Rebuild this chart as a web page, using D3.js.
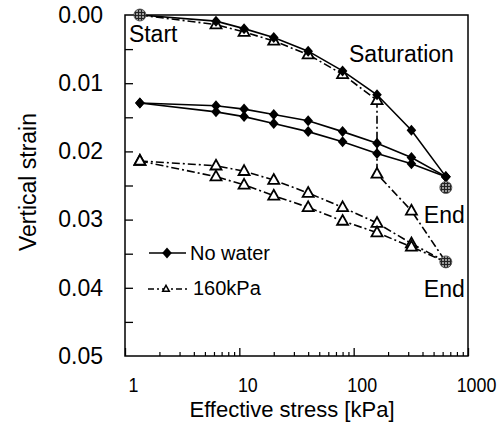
<!DOCTYPE html>
<html>
<head>
<meta charset="utf-8">
<script src="https://cdn.jsdelivr.net/npm/d3@7"></script>
<style>
  body { margin: 0; background: #fff; }
  text { font-family: "Liberation Sans", Arial, sans-serif; fill: #000; }
</style>
</head>
<body>
<svg id="chart" width="499" height="434"></svg>
<script>
// Effective stress steps [kPa]
const stress = [1.35, 6.25, 11, 20, 40, 80, 160, 320, 640];

// "No water" test: vertical strain
const noWaterLoading   = [0, 0.0009, 0.0020, 0.0033, 0.0053, 0.0082, 0.0117, 0.0169, 0.0237];
const noWaterUnloading = [0.0129, 0.0133, 0.0138, 0.0146, 0.0155, 0.0171, 0.0188, 0.0209, 0.0237];
const noWaterReloading = [0.0129, 0.0142, 0.0149, 0.0159, 0.0171, 0.0186, 0.0203, 0.0218, 0.0237];

// "160kPa" test: loading, wetting at 160 kPa, then further loading
const wetStress        = [1.35, 6.25, 11, 20, 40, 80, 160, 160, 320, 640];
const wetLoading       = [0, 0.0014, 0.0025, 0.0038, 0.0058, 0.0087, 0.0125, 0.0233, 0.0287, 0.0362];
const wetUnloading     = [0.0214, 0.0221, 0.0229, 0.0242, 0.0261, 0.0282, 0.0305, 0.0335, 0.0362];
const wetReloading     = [0.0214, 0.0237, 0.0249, 0.0265, 0.0282, 0.0302, 0.0319, 0.0340, 0.0362];

// Marked states
const startState = { stress: 1.35, strain: 0, label: "Start" };
const saturationState = { stress: 160, strain: 0.0117, label: "Saturation" };
const endStates = [
  { stress: 640, strain: 0.0253, label: "End" },
  { stress: 640, strain: 0.0362, label: "End" }
];

// Axes
const xMajorTicks = [1, 10, 100, 1000];
const yLabelTicks = [0, 0.01, 0.02, 0.03, 0.04, 0.05];
const yInnerTicks = [0.005, 0.01, 0.015, 0.02, 0.025, 0.03, 0.035, 0.04, 0.045];
const xTitle = "Effective stress [kPa]";
const yTitle = "Vertical strain";
const legendNames = ["No water", "160kPa"];

(function draw() {
  const svg = d3.select("#chart");
  const plotL = 125, plotR = 468, plotT = 15, plotB = 356;

  const x = d3.scaleLog().domain([1, 1000]).range([plotL, plotR]);
  const y = d3.scaleLinear().domain([0, 0.05]).range([plotT, plotB]);

  // crosshatched fill for start / end circles
  const defs = svg.append("defs");
  const pat = defs.append("pattern").attr("id", "hatch")
    .attr("width", 3).attr("height", 3).attr("patternUnits", "userSpaceOnUse");
  pat.append("rect").attr("width", 3).attr("height", 3).attr("fill", "#9a9a9a");
  pat.append("path").attr("d", "M0,0.5H3M0.5,0V3").attr("stroke", "#222").attr("stroke-width", 1);

  const dashDot = "8,3,2,3";
  const line = d3.line().x(d => x(d[0])).y(d => y(d[1]));
  const pts = (xs, ys) => xs.map((v, i) => [v, ys[i]]);

  const diamond = "M0,-5.5L4.8,0L0,5.5L-4.8,0Z";
  const triangle = "M0,-6L5.5,3.8L-5.5,3.8Z";

  // frame
  svg.append("rect").attr("x", plotL).attr("y", plotT)
    .attr("width", plotR - plotL).attr("height", plotB - plotT)
    .attr("fill", "none").attr("stroke", "#000").attr("stroke-width", 1.5);

  // y axis: labels outside, ticks inward
  svg.append("g").attr("transform", `translate(${plotL},0)`)
    .call(d3.axisLeft(y).tickValues(yLabelTicks).tickFormat(d3.format(".2f")).tickSize(0).tickPadding(22))
    .call(g => g.select(".domain").remove())
    .call(g => g.selectAll("text").attr("font-size", 23).attr("font-family", "Liberation Sans, Arial, sans-serif"));
  svg.append("g").attr("transform", `translate(${plotL},0)`)
    .call(d3.axisRight(y).tickValues(yInnerTicks).tickFormat("").tickSize(8))
    .call(g => g.select(".domain").remove())
    .call(g => g.selectAll("line").attr("stroke-width", 1.3));

  // x axis: log ticks inward, labels below
  const xMinor = [];
  for (let dec = 1; dec < 1000; dec *= 10) for (let k = 2; k <= 9; k++) xMinor.push(dec * k);
  svg.append("g").attr("transform", `translate(0,${plotB})`)
    .call(d3.axisTop(x).tickValues(xMinor).tickFormat("").tickSize(4))
    .call(g => g.select(".domain").remove())
    .call(g => g.selectAll("line").attr("stroke-width", 1.2));
  svg.append("g").attr("transform", `translate(0,${plotB})`)
    .call(d3.axisTop(x).tickValues(xMajorTicks).tickFormat("").tickSize(8))
    .call(g => g.select(".domain").remove())
    .call(g => g.selectAll("line").attr("stroke-width", 1.3));
  svg.append("g").attr("transform", `translate(0,${plotB})`)
    .call(d3.axisBottom(x).tickValues(xMajorTicks).tickFormat(d3.format("d")).tickSize(0).tickPadding(21))
    .call(g => g.select(".domain").remove())
    .call(g => g.selectAll("text").attr("font-size", 21)
      .attr("transform", "translate(8,0) scale(0.85,1)")
      .attr("font-family", "Liberation Sans, Arial, sans-serif"));

  // axis titles
  svg.append("text").attr("x", 292).attr("y", 417).attr("text-anchor", "middle")
    .attr("font-size", 22).text(xTitle);
  svg.append("text").attr("transform", "translate(36,182) rotate(-90)")
    .attr("text-anchor", "middle").attr("font-size", 23).text(yTitle);

  // 160kPa curves (dash-dot, open triangles)
  const wetCurves = [pts(wetStress, wetLoading), pts(stress, wetUnloading), pts(stress, wetReloading)];
  svg.append("g").selectAll("path").data(wetCurves).join("path")
    .attr("d", line).attr("fill", "none").attr("stroke", "#000")
    .attr("stroke-width", 1.6).attr("stroke-dasharray", dashDot);

  // No water curves (solid, diamonds)
  const dryCurves = [pts(stress, noWaterLoading), pts(stress, noWaterUnloading), pts(stress, noWaterReloading)];
  svg.append("g").selectAll("path").data(dryCurves).join("path")
    .attr("d", line).attr("fill", "none").attr("stroke", "#000").attr("stroke-width", 1.6);

  // markers (the 640 kPa state of the wetted test is shown by its End circle)
  const wetMarks = wetCurves.flatMap(c => c.filter(d => d[0] < 640 && d[1] > 0));
  svg.append("g").selectAll("path").data(wetMarks).join("path")
    .attr("transform", d => `translate(${x(d[0])},${y(d[1])})`)
    .attr("d", triangle).attr("fill", "#fff").attr("stroke", "#000").attr("stroke-width", 1.8);

  const dryMarks = dryCurves.flatMap(c => c.filter(d => d[1] > 0));
  svg.append("g").selectAll("path").data(dryMarks).join("path")
    .attr("transform", d => `translate(${x(d[0])},${y(d[1])})`)
    .attr("d", diamond).attr("fill", "#000");

  // start / end circles and labels
  const states = [startState, ...endStates];
  svg.append("g").selectAll("circle").data(states).join("circle")
    .attr("cx", d => x(d.stress)).attr("cy", d => y(d.strain)).attr("r", 6)
    .attr("fill", "url(#hatch)").attr("stroke", "#444").attr("stroke-width", 0.8);

  svg.append("text").attr("x", x(startState.stress) - 11).attr("y", y(startState.strain) + 27)
    .attr("font-size", 23).text(startState.label);
  svg.append("text").attr("x", x(saturationState.stress) - 28).attr("y", y(saturationState.strain) - 33)
    .attr("font-size", 23).text(saturationState.label);
  svg.append("g").selectAll("text").data(endStates).join("text")
    .attr("x", d => x(d.stress) - 22).attr("y", d => y(d.strain) + 35)
    .attr("font-size", 23).text(d => d.label);

  // legend
  const lg = svg.append("g");
  lg.append("line").attr("x1", 149).attr("x2", 186).attr("y1", 253).attr("y2", 253)
    .attr("stroke", "#000").attr("stroke-width", 1.6);
  lg.append("path").attr("transform", "translate(167,253)").attr("d", diamond).attr("fill", "#000");
  lg.append("text").attr("x", 190).attr("y", 260).attr("font-size", 20).text(legendNames[0]);
  lg.append("line").attr("x1", 148).attr("x2", 188).attr("y1", 289).attr("y2", 289)
    .attr("stroke", "#000").attr("stroke-width", 1.6).attr("stroke-dasharray", "6,3,2,3");
  lg.append("path").attr("transform", "translate(166,289) scale(0.6)").attr("d", triangle)
    .attr("fill", "#fff").attr("stroke", "#000").attr("stroke-width", 2.5);
  lg.append("text").attr("x", 193).attr("y", 295).attr("font-size", 20).text(legendNames[1]);
})();
</script>
</body>
</html>
